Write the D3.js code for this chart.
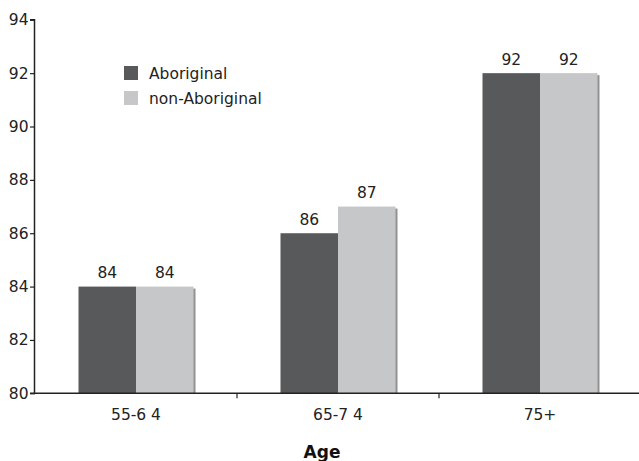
<!DOCTYPE html>
<html><head><meta charset="utf-8">
<script src="https://cdn.jsdelivr.net/npm/d3@7"></script>
<style>body{margin:0;background:#fff}</style>
</head><body><svg id="c" width="639" height="461"></svg>
<script>
const categories = ["55-6 4", "65-7 4", "75+"];
const series = ["Aboriginal", "non-Aboriginal"];
const aboriginal = [84, 86, 92];
const nonAboriginal = [84, 87, 92];
const yTicks = [80, 82, 84, 86, 88, 90, 92, 94];
const colors = ["#58595b", "#c6c7c9"];
const font = "DejaVu Sans, Verdana, sans-serif";
const fs = 15.5;

const svg = d3.select("#c");
const mLeft = 35, mRight = 641, mTop = 19.8, mBottom = 393.3;
const x = d3.scaleBand().domain(categories).range([mLeft, mRight]).paddingInner(0).paddingOuter(0);
const y = d3.scaleLinear().domain([80, 94]).range([mBottom, mTop]);
const barW = 57.5;
const values = [aboriginal, nonAboriginal];

// bars
values.forEach((vals, si) => {
  const g = svg.append("g");
  vals.forEach((v, i) => {
    const bx = x(categories[i]) + (x.bandwidth() - 2 * barW) / 2 + si * barW;
    g.append("rect").attr("x", bx + 2).attr("y", y(v) + 2)
      .attr("width", barW).attr("height", mBottom - y(v) - 2).attr("fill", "#929292");
    g.append("rect").attr("x", bx).attr("y", y(v))
      .attr("width", barW).attr("height", mBottom - y(v)).attr("fill", colors[si]);
    svg.append("text").attr("x", bx + barW / 2).attr("y", y(v) - 8.5)
      .attr("text-anchor", "middle").attr("font-family", font).attr("font-size", fs)
      .attr("fill", "#222").text(v);
  });
});

// y axis
const ya = svg.append("g").attr("transform", `translate(${mLeft},0)`)
  .call(d3.axisLeft(y).tickValues(yTicks).tickSize(5).tickPadding(1.5).tickFormat(d3.format("d")));
ya.select(".domain").attr("stroke", "#222").attr("stroke-width", 1.5).attr("d", `M-0.5,${mBottom}V${mTop}H-5`);
ya.selectAll(".tick line").attr("stroke", "#222").attr("stroke-width", 1.2);
ya.selectAll("text").attr("font-family", font).attr("font-size", fs).attr("fill", "#222");

// x axis
const xa = svg.append("g").attr("transform", `translate(0,${mBottom})`);
xa.append("line").attr("x1", mLeft - 5).attr("x2", 639).attr("y1", 0).attr("y2", 0)
  .attr("stroke", "#222").attr("stroke-width", 1.5);
xa.selectAll("line.tk").data(categories.slice(1)).join("line").attr("class", "tk")
  .attr("x1", d => x(d)).attr("x2", d => x(d)).attr("y1", 0).attr("y2", 5)
  .attr("stroke", "#222").attr("stroke-width", 1.2);
xa.selectAll("text").data(categories).join("text")
  .attr("x", d => x(d) + x.bandwidth() / 2).attr("y", 27)
  .attr("text-anchor", "middle").attr("font-family", font).attr("font-size", fs)
  .attr("fill", "#222").text(d => d);

svg.append("text").attr("x", 322).attr("y", 458).attr("text-anchor", "middle")
  .attr("font-family", font).attr("font-size", 17).attr("font-weight", "bold")
  .attr("fill", "#111").text("Age");

// legend
const lg = svg.append("g");
series.forEach((s, i) => {
  lg.append("rect").attr("x", 124).attr("y", 66 + i * 25).attr("width", 14).attr("height", 14)
    .attr("fill", colors[i]);
  lg.append("text").attr("x", 149).attr("y", 79 + i * 25).attr("font-family", font)
    .attr("font-size", fs).attr("fill", "#222").text(s);
});
</script></body></html>
